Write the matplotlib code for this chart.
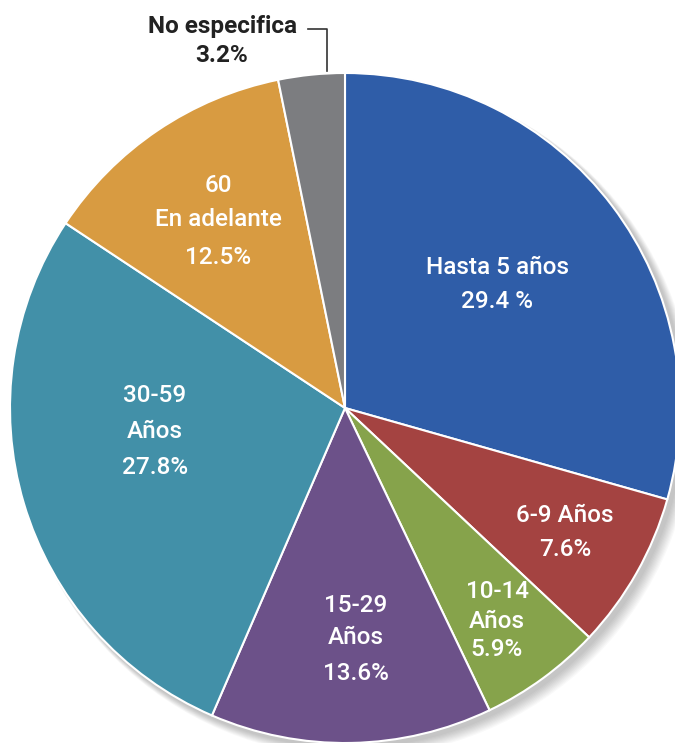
import matplotlib.pyplot as plt
from matplotlib.patches import Circle

# data
labels = ['Hasta 5 años', '6-9 Años', '10-14\nAños', '15-29\nAños', '30-59\nAños',
          '60\nEn adelante', 'No especifica']
values = [29.4, 7.6, 5.9, 13.6, 27.8, 12.5, 3.2]
pct_text = ['29.4 %', '7.6%', '5.9%', '13.6%', '27.8%', '12.5%', '3.2%']
colors = ['#2F5DA8', '#A44341', '#86A34B', '#6C5189', '#4290A8', '#D89B41', '#7C7D80']

W, H = 675, 743
fig = plt.figure(figsize=(W / 100, H / 100), dpi=100)
ax = fig.add_axes([0, 0, 1, 1])

cx, cy, r = 345, H - 408, 335

# soft drop shadow to the lower right
for i in range(10):
    ax.add_patch(Circle((cx + 4 + i * 0.6, cy - 4 - i * 0.6), r + 1 + i * 0.4,
                        color='#000000', alpha=0.025, lw=0, zorder=1))

wedges, _ = ax.pie(values, colors=colors, startangle=90, counterclock=False,
                   center=(cx, cy), radius=r, frame=True,
                   wedgeprops=dict(edgecolor='white', linewidth=1.5))
for w in wedges:
    w.set_zorder(2)
ax.set_xlim(0, W)
ax.set_ylim(0, H)
ax.set_aspect('equal')
ax.axis('off')

font = dict(family='Roboto', fontsize=17.5, fontweight='medium', color='white',
            ha='center', va='center', zorder=5)

# label positions in pixel coords (x, y from top)
pos = [(497, 268, 302), (565, 515, 550), (497, None, 650), (356, None, 673),
       (155, None, 468), (218, None, 257)]
multi_y = {2: [592, 622], 3: [605, 638], 4: [395, 432], 5: [185, 220]}
for i, (x, y1, y2) in enumerate(pos):
    if i in multi_y:
        for line, yy in zip(labels[i].split('\n'), multi_y[i]):
            ax.text(x, H - yy, line, **font)
    else:
        ax.text(x, H - y1, labels[i], **font)
    ax.text(x, H - y2, pct_text[i], **font)

# No especifica callout
dark = dict(family='Roboto', fontsize=17.5, color='#222222', ha='center', va='center',
            fontweight='bold')
ax.text(222, H - 27, labels[6], **dark)
ax.text(222, H - 55, pct_text[6], **dark)
ax.plot([308, 327, 327], [H - 29, H - 29, H - 71], color='#333333', lw=1.2)

fig.savefig('out.png', dpi=100)
